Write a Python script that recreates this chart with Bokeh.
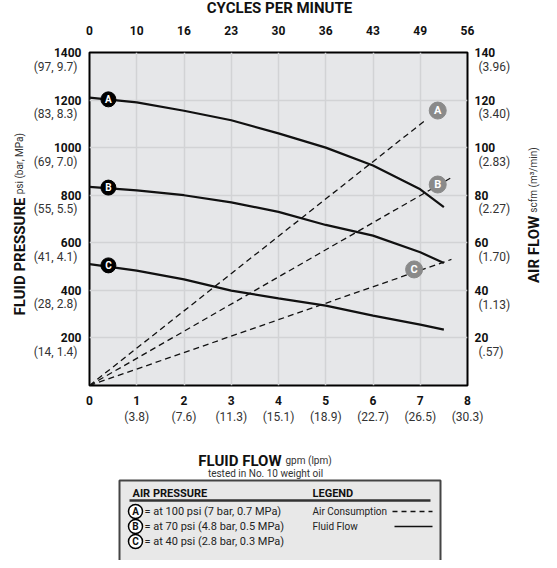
import math
from bokeh.plotting import figure
from bokeh.models import Range1d, LinearAxis, FixedTicker
from bokeh.layouts import column, row
from bokeh.embed import file_html
from bokeh.resources import INLINE
from bokeh.core.properties import value

# ---------------- data ----------------
flow_gpm = [0, 1, 2, 3, 4, 5, 6, 7, 7.5]
press_A = [1210, 1190, 1155, 1115, 1060, 1000, 925, 825, 750]
press_B = [835, 820, 800, 770, 730, 675, 630, 560, 515]
press_C = [510, 483, 446, 399, 366, 336, 294, 256, 235]

air_A_gpm = [0, 7.14]
air_A_scfm = [0, 112]
air_B_gpm = [0, 7.66]
air_B_scfm = [0, 87.4]
air_C_gpm = [0, 7.66]
air_C_scfm = [0, 53]

curve_letters = ["A", "B", "C"]
curve_lbl_gpm = [0.4, 0.4, 0.4]
curve_lbl_psi = [1203, 832, 505]
air_lbl_gpm = [7.37, 7.37, 6.87]
air_lbl_scfm = [115.6, 84.5, 48.8]

x_ticks = [0, 1, 2, 3, 4, 5, 6, 7, 8]
x_labels = ["0", "1", "2", "3", "4", "5", "6", "7", "8"]
x_sub = ["", "(3.8)", "(7.6)", "(11.3)", "(15.1)", "(18.9)", "(22.7)", "(26.5)", "(30.3)"]
cycles = ["0", "10", "16", "23", "30", "36", "43", "49", "56"]
y_ticks = [200, 400, 600, 800, 1000, 1200, 1400]
y_sub = ["(14, 1.4)", "(28, 2.8)", "(41, 4.1)", "(55, 5.5)", "(69, 7.0)", "(83, 8.3)", "(97, 9.7)"]
air_ticks = [20, 40, 60, 80, 100, 120, 140]
air_sub = ["(.57)", "(1.13)", "(1.70)", "(2.27)", "(2.83)", "(3.40)", "(3.96)"]

legend_rows = ["= at 100 psi (7 bar, 0.7 MPa)", "= at 70 psi (4.8 bar, 0.5 MPa)",
               "= at 40 psi (2.8 bar, 0.3 MPa)"]
legend_keys = ["Air Consumption", "Fluid Flow"]

F = "Roboto"
BG = "#e6e7e9"
DARK = "#111111"
GREY_TXT = "#333333"

# layout sizes (pixels)
W = 541
TOP_H, MAIN_H, BOT_H = 17, 418, 125
LEFT_W, RIGHT_W = 30, 28
MAIN_W = W - LEFT_W - RIGHT_W

# ---------------- main figure ----------------
p = figure(width=MAIN_W, height=MAIN_H, x_range=Range1d(0, 8), y_range=Range1d(0, 1400),
           output_backend="svg", toolbar_location=None,
           min_border_left=58, min_border_right=MAIN_W - 58 - 382, min_border_top=35,
           min_border_bottom=50)
p.extra_y_ranges = {"air": Range1d(0, 140)}
p.background_fill_color = BG
p.border_fill_color = "white"
p.outline_line_color = "black"
p.outline_line_width = 2


def style_axis(ax, bold=True, size="12px", standoff=8):
    ax.axis_line_color = None
    ax.major_tick_line_color = None
    ax.minor_tick_line_color = None
    ax.major_tick_in = 0
    ax.major_tick_out = 0
    ax.minor_tick_in = 0
    ax.minor_tick_out = 0
    ax.major_label_text_font = F
    ax.major_label_text_font_style = "bold" if bold else "normal"
    ax.major_label_text_font_size = size
    ax.major_label_text_color = DARK if bold else GREY_TXT
    ax.major_label_standoff = standoff


# bottom: gpm numbers, then lpm sub-labels
xa = p.xaxis[0]
xa.ticker = FixedTicker(ticks=x_ticks)
xa.major_label_overrides = {t: l for t, l in zip(x_ticks, x_labels)}
style_axis(xa, True, "12px", 10)

xa2 = LinearAxis(ticker=FixedTicker(ticks=x_ticks[1:]))
xa2.major_label_overrides = {t: l for t, l in zip(x_ticks, x_sub) if l}
style_axis(xa2, False, "12px", 2)
p.add_layout(xa2, "below")

# top: cycles per minute
xt = LinearAxis(ticker=FixedTicker(ticks=x_ticks))
xt.major_label_overrides = {t: l for t, l in zip(x_ticks, cycles)}
style_axis(xt, True, "12px", 18)
p.add_layout(xt, "above")

# left: psi numbers + (bar, MPa) sub-labels just below each
D_PSI = 59
ya = p.yaxis[0]
ya.ticker = FixedTicker(ticks=y_ticks)
ya.major_label_overrides = {t: str(t) for t in y_ticks}
style_axis(ya, True, "12px", 8)

ya2 = LinearAxis(ticker=FixedTicker(ticks=[t - D_PSI for t in y_ticks]))
ya2.major_label_overrides = {t - D_PSI: s for t, s in zip(y_ticks, y_sub)}
style_axis(ya2, False, "12px", -27)
p.add_layout(ya2, "left")

# right: scfm numbers + (m3/min) sub-labels
D_SCFM = 6
yr = LinearAxis(y_range_name="air", ticker=FixedTicker(ticks=air_ticks))
yr.major_label_overrides = {t: str(t) for t in air_ticks}
style_axis(yr, True, "12px", 7)
p.add_layout(yr, "right")

yr2 = LinearAxis(y_range_name="air", ticker=FixedTicker(ticks=[t - D_SCFM for t in air_ticks]))
yr2.major_label_overrides = {t - D_SCFM: s for t, s in zip(air_ticks, air_sub)}
style_axis(yr2, False, "12px", -20)
p.add_layout(yr2, "right")

p.xgrid.ticker = FixedTicker(ticks=x_ticks)
p.ygrid.ticker = FixedTicker(ticks=y_ticks)
p.grid.grid_line_color = "#d2d3d5"
p.grid.grid_line_width = 1.5

# air consumption (dashed)
for gx, gy in [(air_A_gpm, air_A_scfm), (air_B_gpm, air_B_scfm), (air_C_gpm, air_C_scfm)]:
    p.line(gx, gy, y_range_name="air", line_color=DARK, line_width=1.3, line_dash="6 4")

# fluid flow (solid)
for py in [press_A, press_B, press_C]:
    p.line(flow_gpm, py, line_color=DARK, line_width=2.2)

# curve labels
p.scatter(curve_lbl_gpm, curve_lbl_psi, size=15, marker="circle", fill_color="black",
          line_color="black")
p.text(curve_lbl_gpm, curve_lbl_psi, text=curve_letters, text_align="center",
       text_baseline="middle", text_color="white", text_font=value(F), text_font_style="bold",
       text_font_size="10px")
p.scatter(air_lbl_gpm, air_lbl_scfm, y_range_name="air", size=17, marker="circle",
          fill_color="#8a8a8a", line_color="#8a8a8a")
p.text(air_lbl_gpm, air_lbl_scfm, y_range_name="air", text=curve_letters, text_align="center",
       text_baseline="middle", text_color="white", text_font=value(F), text_font_style="bold",
       text_font_size="11px")


def panel(w, h):
    f = figure(width=w, height=h, x_range=Range1d(0, w), y_range=Range1d(0, h),
               output_backend="svg", toolbar_location=None, min_border=0,
               x_axis_location=None, y_axis_location=None)
    f.outline_line_color = None
    f.background_fill_color = "white"
    f.border_fill_color = "white"
    f.grid.visible = False
    return f


# ---------------- top title panel ----------------
t = panel(W, TOP_H)
t.text([279], [10], text=["CYCLES PER MINUTE"], text_align="center", text_baseline="middle",
       text_font=value(F), text_font_style="bold", text_font_size="15px", text_color=DARK)

# ---------------- left title panel ----------------
lp = panel(LEFT_W, MAIN_H)
lp.text([19], [236], text=["FLUID PRESSURE"], angle=math.pi / 2, text_align="right",
        text_baseline="alphabetic", text_font=value(F), text_font_style="bold",
        text_font_size="15px", text_color=DARK)
lp.text([19], [240], text=["psi (bar, MPa)"], angle=math.pi / 2, text_align="left",
        text_baseline="alphabetic", text_font=value(F), text_font_size="10px", text_color=GREY_TXT)

# ---------------- right title panel ----------------
rp = panel(RIGHT_W, MAIN_H)
rp.text([20], [213], text=["AIR FLOW"], angle=math.pi / 2, text_align="right",
        text_baseline="alphabetic", text_font=value(F), text_font_style="bold",
        text_font_size="15px", text_color=DARK)
rp.text([20], [217], text=["scfm (m³/min)"], angle=math.pi / 2, text_align="left",
        text_baseline="alphabetic", text_font=value(F), text_font_size="10px", text_color=GREY_TXT)

# ---------------- bottom panel: axis title + legend box ----------------
q = panel(W, BOT_H)
q.text([281], [100], text=["FLUID FLOW"], text_align="right", text_baseline="alphabetic",
       text_font=value(F), text_font_style="bold", text_font_size="15px", text_color=DARK)
q.text([285], [100], text=["gpm (lpm)"], text_align="left", text_baseline="alphabetic",
       text_font=value(F), text_font_size="10px", text_color=GREY_TXT)
q.text([265], [87], text=["tested in No. 10 weight oil"], text_align="center",
       text_baseline="middle", text_font=value(F), text_font_size="10px", text_color=GREY_TXT)

box_l, box_r, box_t, box_b = 119, 440, 80, -10
q.quad(left=[box_l], right=[box_r], top=[box_t], bottom=[box_b], fill_color="#e8e8e8",
       line_color="#444444", line_width=2)
q.text([132, 312], [67, 67], text=["AIR PRESSURE", "LEGEND"], text_font=value(F),
       text_font_style="bold", text_font_size="11px", text_baseline="middle", text_color=DARK)
q.line([129, 430], [60, 60], line_color="#333333", line_width=2.5)
row_y = [49, 34, 19]
q.scatter([135, 135, 135], row_y, size=14, marker="circle", fill_color="white",
          line_color="black", line_width=1.5)
q.text([135, 135, 135], row_y, text=curve_letters, text_align="center", text_baseline="middle",
       text_font=value(F), text_font_style="bold", text_font_size="10px", text_color=DARK)
q.text([144, 144, 144], row_y, text=legend_rows, text_baseline="middle", text_font=value(F),
       text_font_size="11px", text_color="#222222")
q.text([312, 312], row_y[:2], text=legend_keys, text_baseline="middle",
       text_font=value(F), text_font_size="10px", text_color="#222222")
q.line([392, 432], [row_y[0], row_y[0]], line_color=DARK, line_width=1.3, line_dash="5 4")
q.line([394, 432], [row_y[1], row_y[1]], line_color=DARK, line_width=1.3)

layout = column(t, row(lp, p, rp, spacing=0), q, spacing=0)
open("out.html", "w").write(file_html(layout, INLINE))
